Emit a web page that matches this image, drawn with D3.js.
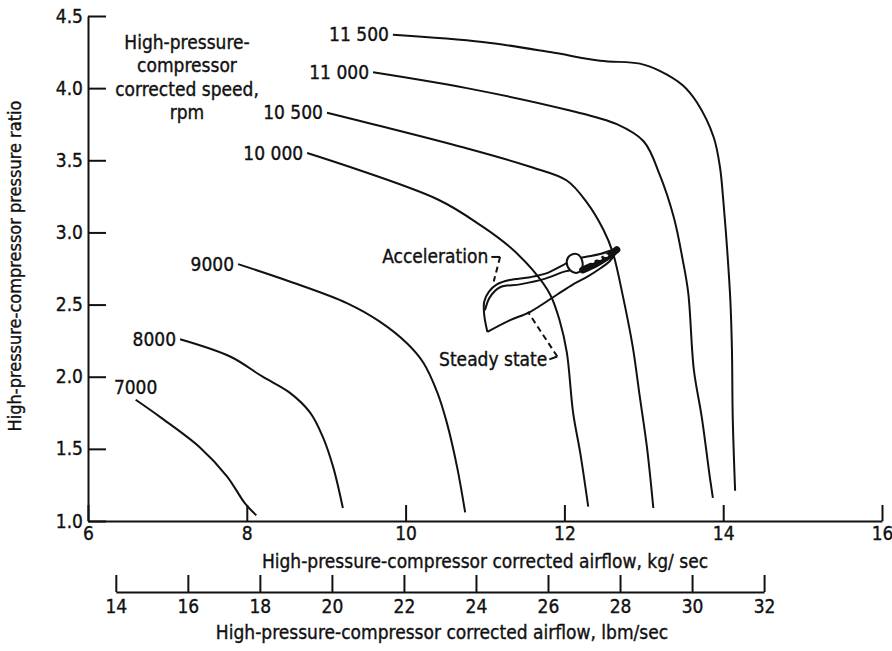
<!DOCTYPE html>
<html>
<head>
<meta charset="utf-8">
<script src="https://cdn.jsdelivr.net/npm/d3@7"></script>
<style>
  body { margin: 0; background: #fff; }
  svg text { font-family: "DejaVu Sans Condensed", "DejaVu Sans", sans-serif; font-stretch: condensed; fill: #111; stroke: #111; stroke-width: 0.35px; }
</style>
</head>
<body>
<div id="chart"></div>
<script>
// compressor map: corrected speed lines, [kg/sec, pressure ratio]
var speedLabels = ["7000", "8000", "9000", "10 000", "10 500", "11 000", "11 500"];

var line7000 = [[6.60,1.84],[6.91,1.72],[7.41,1.51],[7.75,1.31],[7.98,1.12],[8.12,1.04]];
var line8000 = [[7.16,2.26],[7.79,2.14],[8.20,2.00],[8.54,1.89],[8.80,1.75],[8.96,1.58],[9.09,1.37],[9.21,1.09]];
var line9000 = [[7.89,2.78],[8.54,2.66],[9.26,2.51],[9.68,2.38],[10.02,2.23],[10.22,2.10],[10.40,1.89],[10.52,1.68],[10.65,1.37],[10.75,1.06]];
var line10000 = [[8.76,3.55],[10.40,3.23],[10.97,3.04],[11.31,2.90],[11.60,2.74],[11.82,2.57],[11.94,2.39],[12.03,2.17],[12.11,1.75],[12.20,1.47],[12.30,1.10]];
var line10500 = [[9.01,3.83],[9.59,3.75],[10.72,3.59],[11.60,3.45],[12.03,3.36],[12.28,3.21],[12.49,3.02],[12.61,2.86],[12.74,2.55],[12.86,2.21],[12.95,1.86],[13.04,1.51],[13.12,1.09]];
var line11000 = [[9.59,4.11],[10.77,4.00],[12.03,3.85],[12.66,3.75],[13.00,3.63],[13.20,3.40],[13.38,3.10],[13.49,2.81],[13.56,2.58],[13.63,2.05],[13.73,1.72],[13.83,1.31],[13.87,1.16]];
var line11500 = [[9.84,4.37],[10.97,4.32],[11.82,4.25],[12.45,4.19],[12.95,4.17],[13.20,4.12],[13.49,4.02],[13.67,3.90],[13.88,3.66],[13.96,3.45],[14.00,3.23],[14.05,2.88],[14.09,2.53],[14.11,2.19],[14.12,1.72],[14.15,1.21]];

var speedLines = [line7000, line8000, line9000, line10000, line10500, line11000, line11500];

// transient traces
var steadyLine = [[11.03,2.31],[11.31,2.39],[11.57,2.45],[11.91,2.57],[12.11,2.64],[12.28,2.69],[12.45,2.75],[12.57,2.80],[12.66,2.87]];
var accelOuter = [[11.03,2.31],[10.99,2.43],[10.99,2.52],[11.05,2.59],[11.15,2.64],[11.31,2.67],[11.57,2.69],[11.79,2.72],[11.97,2.77],[12.10,2.81],[12.26,2.83],[12.45,2.85],[12.66,2.89]];
var accelInner = [[11.00,2.46],[11.06,2.55],[11.19,2.62],[11.44,2.64],[11.76,2.68],[12.01,2.73],[12.20,2.75]];
var loopBubble = [[12.03,2.80],[12.07,2.84],[12.16,2.85],[12.22,2.81],[12.22,2.75],[12.16,2.72],[12.07,2.74]];
var knot = [[12.23,2.74],[12.39,2.78],[12.54,2.83],[12.66,2.88]];
var knotHoles = [[12.35,2.80],[12.44,2.82],[12.52,2.84]];

var accelLeader = [[11.08,2.83],[11.19,2.83],[11.11,2.66]];
var steadyLeader = [[11.81,2.12],[11.91,2.14],[11.54,2.45]];

var kgTicks = [6, 8, 10, 12, 14, 16];
var lbmTicks = [14, 16, 18, 20, 22, 24, 26, 28, 30, 32];
var prTicks = [1.0, 1.5, 2.0, 2.5, 3.0, 3.5, 4.0, 4.5];
var legendLines = ["High-pressure-", "compressor", "corrected speed,", "rpm"];

var width = 892, height = 651;
var kgPerLbm = 1 / 2.20462;

var svg = d3.select("#chart").append("svg")
    .attr("width", width)
    .attr("height", height)
    .style("background", "#fff");

var x = d3.scaleLinear().domain([6, 16]).range([88, 882]);
var y = d3.scaleLinear().domain([1, 4.5]).range([521, 16]);
var xl = d3.scaleLinear().domain([14, 32]).range([x(14 * kgPerLbm), x(32 * kgPerLbm)]);

var fs = 19;

// axes
var yAxis = svg.append("g")
    .attr("transform", "translate(88,0)")
    .call(d3.axisLeft(y).tickValues(prTicks).tickSize(-18).tickSizeOuter(0).tickPadding(5).tickFormat(d3.format(".1f")));

var xAxis = svg.append("g")
    .attr("transform", "translate(0,521)")
    .call(d3.axisBottom(x).tickValues(kgTicks).tickSize(-16).tickSizeOuter(0).tickPadding(6).tickFormat(d3.format("d")));

var lAxis = svg.append("g")
    .attr("transform", "translate(0,592)")
    .call(d3.axisBottom(xl).tickValues(lbmTicks).tickSize(-17).tickSizeOuter(0).tickPadding(8).tickFormat(d3.format("d")));

[yAxis, xAxis, lAxis].forEach(function(g){
    g.attr("font-family", null);
    g.selectAll("path, line").attr("stroke", "#111").attr("stroke-width", 2);
    g.selectAll("text").attr("fill", "#111").style("font-size", fs + "px");
});

// axis titles
svg.append("text")
    .attr("transform", "translate(21,266) rotate(-90)")
    .attr("text-anchor", "middle")
    .style("font-size", "18px")
    .text("High-pressure-compressor pressure ratio");

svg.append("text")
    .attr("x", 485).attr("y", 568)
    .attr("text-anchor", "middle")
    .style("font-size", fs + "px")
    .text("High-pressure-compressor corrected airflow, kg/ sec");

svg.append("text")
    .attr("x", 442).attr("y", 639)
    .attr("text-anchor", "middle")
    .style("font-size", fs + "px")
    .text("High-pressure-compressor corrected airflow, lbm/sec");

// legend title
svg.selectAll(".legend")
    .data(legendLines).enter().append("text")
    .attr("class", "legend")
    .attr("x", 187)
    .attr("y", function(d, i){ return 49 + i * 23.3; })
    .attr("text-anchor", "middle")
    .style("font-size", fs + "px")
    .text(function(d){ return d; });

// speed lines
var line = d3.line()
    .x(function(d){ return x(d[0]); })
    .y(function(d){ return y(d[1]); })
    .curve(d3.curveCatmullRom.alpha(0.5));

svg.selectAll(".speed")
    .data(speedLines).enter().append("path")
    .attr("class", "speed")
    .attr("d", line)
    .attr("fill", "none")
    .attr("stroke", "#111")
    .attr("stroke-width", 2);

svg.selectAll(".speedlabel")
    .data(speedLines).enter().append("text")
    .attr("class", "speedlabel")
    .attr("x", function(d, i){ return i === 0 ? x(d[0][0]) : x(d[0][0]) - 4; })
    .attr("y", function(d, i){ return i === 0 ? y(d[0][1]) - 6 : y(d[0][1]) + 6.5; })
    .attr("text-anchor", function(d, i){ return i === 0 ? "middle" : "end"; })
    .style("font-size", fs + "px")
    .text(function(d, i){ return speedLabels[i]; });

// transient traces
[steadyLine, accelOuter, accelInner].forEach(function(d){
    svg.append("path")
        .attr("d", line(d))
        .attr("fill", "none")
        .attr("stroke", "#111")
        .attr("stroke-width", 2);
});

svg.append("path")
    .attr("d", d3.line().x(function(d){ return x(d[0]); }).y(function(d){ return y(d[1]); })
        .curve(d3.curveCatmullRomClosed)(loopBubble))
    .attr("fill", "#fff")
    .attr("stroke", "#111")
    .attr("stroke-width", 2);

svg.append("path")
    .attr("d", line(knot))
    .attr("fill", "none")
    .attr("stroke", "#111")
    .attr("stroke-width", 7)
    .attr("stroke-linecap", "round");

svg.selectAll(".hole")
    .data(knotHoles).enter().append("ellipse")
    .attr("class", "hole")
    .attr("cx", function(d){ return x(d[0]); })
    .attr("cy", function(d){ return y(d[1]); })
    .attr("rx", 2.5).attr("ry", 1.6)
    .attr("fill", "#fff");

// leaders
[accelLeader, steadyLeader].forEach(function(d){
    var p = d.map(function(v){ return [x(v[0]), y(v[1])]; });
    svg.append("path")
        .attr("d", "M" + p[0] + "L" + p[1])
        .attr("stroke", "#111").attr("stroke-width", 2).attr("fill", "none");
    svg.append("path")
        .attr("d", "M" + p[1] + "L" + p[2])
        .attr("stroke", "#111").attr("stroke-width", 2).attr("fill", "none")
        .attr("stroke-dasharray", "6,4");
});

svg.append("text")
    .attr("x", x(accelLeader[0][0]) - 3)
    .attr("y", y(accelLeader[0][1]) + 6.5)
    .attr("text-anchor", "end")
    .style("font-size", fs + "px")
    .text("Acceleration");

svg.append("text")
    .attr("x", x(steadyLeader[0][0]) - 2)
    .attr("y", y(steadyLeader[0][1]) + 6.5)
    .attr("text-anchor", "end")
    .style("font-size", fs + "px")
    .text("Steady state");
</script>
</body>
</html>
